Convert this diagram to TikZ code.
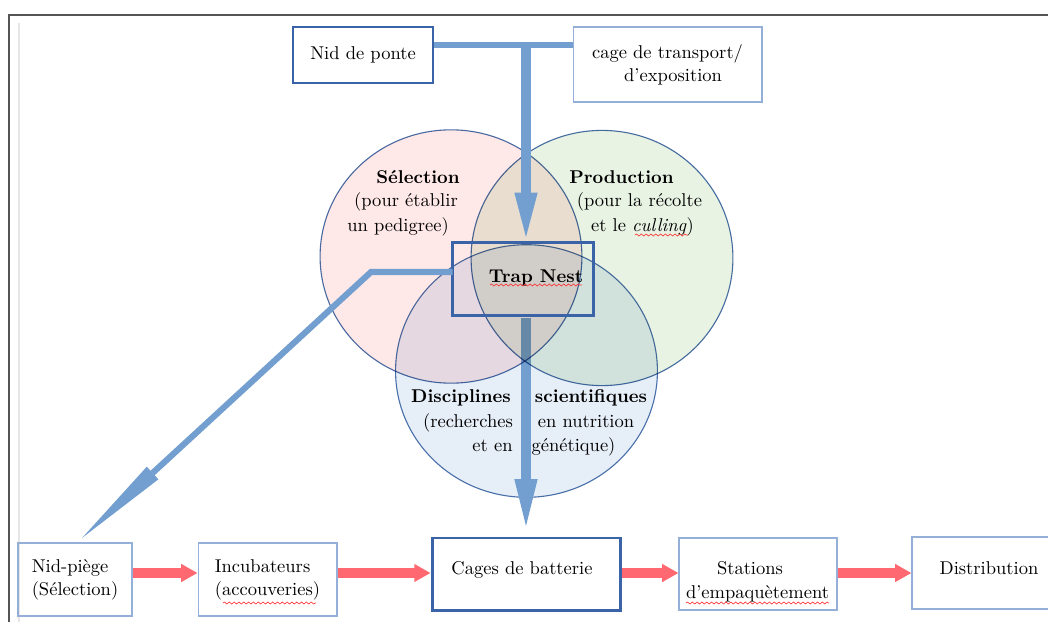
\documentclass[tikz,border=0pt]{standalone}
\usetikzlibrary{arrows.meta,decorations.pathmorphing}
\definecolor{dkblue}{HTML}{3B64A8}
\definecolor{ltblue}{HTML}{95B0D8}
\definecolor{circedge}{HTML}{4A70AA}
\definecolor{arrblue}{HTML}{729FCF}
\definecolor{arrred}{HTML}{FF6870}
\definecolor{pinkfill}{RGB}{255,232,232}
\definecolor{greenfill}{RGB}{232,243,228}
\definecolor{bluefill}{RGB}{230,238,248}
\definecolor{framedark}{HTML}{555555}
\definecolor{framelight}{HTML}{E6E6E6}
\begin{document}
\begin{tikzpicture}[x=0.54pt,y=-0.54pt,
  every node/.style={font=\fontsize{10}{12.5}\selectfont, inner sep=0pt},
  lbox/.style={draw=ltblue, line width=0.6pt, align=center},
  dbox/.style={draw=dkblue, line width=1.6pt},
  txt/.style={anchor=base},
  redarr/.style={draw=arrred, line width=5pt, -{Triangle[width=9.2pt,length=8.8pt]}},
  bluebar/.style={draw=arrblue, line width=3.3pt},
  bluearr/.style={draw=arrblue, line width=5.2pt, -{Triangle[width=10.8pt,length=27pt]}},
  circ/.style={draw=circedge, line width=0.6pt},
  squig/.style={draw=red!80, line width=0.35pt, decorate, decoration={snake, segment length=2.6pt, amplitude=0.55pt}}
]
\fill[white] (0,0) rectangle (1048,622);
\useasboundingbox (0,0) rectangle (1048,622);
% page frame
\draw[framelight, line width=1.1pt] (19,23) -- (19,622);
\draw[framedark, line width=1.1pt] (9,622) -- (9,15) -- (1048,15);

% bottom row
\node[lbox, minimum width=61.6pt, minimum height=39.4pt, align=left] (nidp) at (75,579.5) {Nid-piège\\(Sélection)};
\node[lbox, minimum width=75pt, minimum height=39.4pt, align=left] (incub) at (267.5,579.5) {Incubateurs\\(accouveries)};
\node[dbox, minimum width=102pt, minimum height=38.9pt] (cages) at (526.5,574) {};
\node[txt] (cagesl) at (522,574) {Cages de batterie};
\node[lbox, minimum width=85.3pt, minimum height=38.9pt] (stations) at (758,574) {};
\node[txt] (stationsl1) at (750,574) {Stations};
\node[txt] (stationsl2) at (757.5,598) {d'empaquètement};
\node[lbox, minimum width=83.2pt, minimum height=38.9pt] (distrib) at (989,573) {};
\node[txt] (distribl) at (989,574) {Distribution};

\draw[redarr] (nidp.east |- 0,573) -- (incub.west |- 0,573);
\draw[redarr] (incub.east |- 0,573) -- (cages.west |- 0,573);
\draw[redarr] (cages.east |- 0,573) -- (stations.west |- 0,573);
\draw[redarr] (stations.east |- 0,573) -- (distrib.west |- 0,573);

% top boxes
\node[draw=dkblue, line width=0.9pt, minimum width=75.6pt, minimum height=30.2pt] (nidponte) at (363,55) {Nid de ponte};
\node[lbox, minimum width=102pt, minimum height=40.5pt] (cage) at (667.5,64.5) {cage de transport/\\ \hspace{6pt}d'exposition};

% trap nest (shape only, border drawn later)
\node[minimum width=75.6pt, minimum height=38.9pt] (tn) at (523,279) {};

% lower circle
\filldraw[circ, fill=bluefill] (526.5,371) ellipse[x radius=70.7pt, y radius=68.2pt];

% arrow from trap nest to batteries (under the upper circles)
\draw[bluearr, shorten <=1.6pt, shorten >=2.5pt, -{Triangle[width=10.8pt,length=28.5pt]}] (tn.south -| 526,0) -- (cages.north -| 526,0);

% upper circles
\begin{scope}[blend mode=multiply]
  \filldraw[circ, fill=pinkfill] (451,256.5) ellipse[x radius=70.7pt, y radius=68.4pt];
  \filldraw[circ, fill=greenfill] (602,258) ellipse[x radius=70.7pt, y radius=68.9pt];
\end{scope}

% circle texts
\node[txt] (sel1) at (418,183) {\textbf{Sélection}};
\node[txt] (sel2) at (406,207) {(pour établir};
\node[txt] (sel3) at (398,231) {un pedigree)};
\node[txt] (pro1) at (621.5,183) {\textbf{Production}};
\node[txt] (pro2) at (639.5,207) {(pour la récolte};
\node[txt] (pro3) at (642.5,231) {et le \textit{culling})};
\node[txt] (dis1) at (461,402) {\textbf{Disciplines}};
\node[txt] (dis2) at (591,402) {\textbf{scientifiques}};
\node[txt] (dis3) at (468,427) {(recherches};
\node[txt] (dis4) at (586,427) {en nutrition};
\node[txt] (dis5) at (492.5,451) {et en};
\node[txt] (dis6) at (573.5,451) {génétique)};

% trap nest border and text
\draw[dkblue, line width=1.6pt] (tn.north west) rectangle (tn.south east);
\node[txt] (tnl) at (536,282) {\textbf{Trap Nest}};

% spell-check squiggles
\draw[squig] (490,285) -- (582,285);
\draw[squig] (635,235) -- (688,235);
\draw[squig] (223,603) -- (316,603);
\draw[squig] (686,603) -- (829,603);

% top T connector
\coordinate (tjoin) at (526,45);
\draw[bluebar] (nidponte.east |- 0,45) -- (cage.west |- 0,45);
\draw[bluearr] (526,42) -- (tn.north -| tjoin);

% diagonal to nid-piege
\coordinate (bend) at (371,272);
\coordinate (diagtip) at (82,538);
\coordinate (diagbase) at (152.6,473.0);
\coordinate (headl) at (158.4,479.3);
\coordinate (headr) at (146.8,466.7);
\draw[draw=arrblue, line width=3.3pt] (tn.west |- 0,272) -- (bend) -- (diagbase);
\fill[arrblue] (headl) -- (diagtip) -- (headr) -- cycle;
\end{tikzpicture}
\end{document}
